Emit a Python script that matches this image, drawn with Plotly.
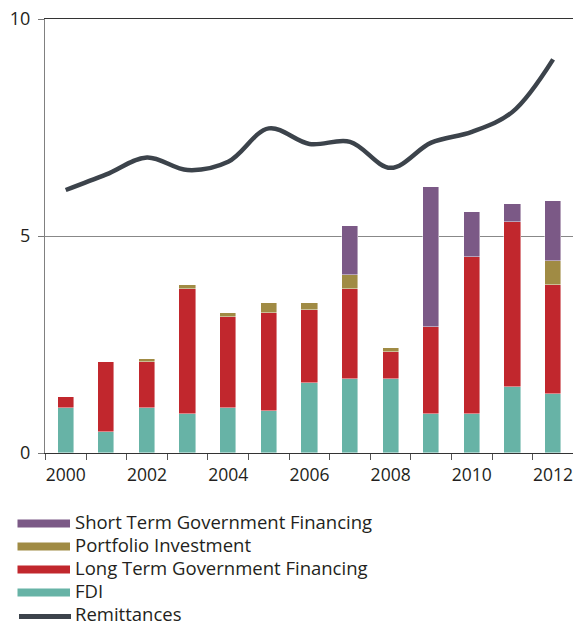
import plotly.graph_objects as go

years = [2000, 2001, 2002, 2003, 2004, 2005, 2006, 2007, 2008, 2009, 2010, 2011, 2012]
fdi = [1.04, 0.49, 1.04, 0.89, 1.04, 0.96, 1.61, 1.70, 1.70, 0.89, 0.89, 1.53, 1.37]
long_term_gov = [0.25, 1.60, 1.05, 2.89, 2.09, 2.26, 1.68, 2.08, 0.63, 2.01, 3.62, 3.79, 2.49]
portfolio = [0, 0, 0.08, 0.08, 0.09, 0.24, 0.17, 0.32, 0.09, 0, 0, 0, 0.57]
short_term_gov = [0, 0, 0, 0, 0, 0, 0, 1.13, 0, 3.23, 1.04, 0.41, 1.37]
remittances = [6.06, 6.42, 6.81, 6.52, 6.71, 7.48, 7.12, 7.17, 6.57, 7.15, 7.40, 7.86, 9.07]

x_tick_vals = [2000, 2002, 2004, 2006, 2008, 2010, 2012]
x_tick_text = ["2000", "2002", "2004", "2006", "2008", "2010", "2012"]
y_tick_vals = [0, 5, 10]

names = ["Short Term Government Financing", "Portfolio Investment",
         "Long Term Government Financing", "FDI", "Remittances"]
colors = {"Short Term Government Financing": "#7B5986",
          "Portfolio Investment": "#A08B44",
          "Long Term Government Financing": "#C1272D",
          "FDI": "#67B3A6",
          "Remittances": "#3C434B"}

W, H = 573, 626
L, R, T, B = 45, 0, 19, 173
PW, PH = W - L - R, H - T - B

fig = go.Figure()
edge = dict(width=0.8, color="rgba(255,255,255,0.55)")
for name, vals in [("FDI", fdi), ("Long Term Government Financing", long_term_gov),
                   ("Portfolio Investment", portfolio),
                   ("Short Term Government Financing", short_term_gov)]:
    fig.add_trace(go.Bar(x=years, y=vals, name=name, width=0.4,
                         marker=dict(color=colors[name], line=edge),
                         showlegend=False))
fig.add_trace(go.Scatter(x=years, y=remittances, name="Remittances", mode="lines",
                         line=dict(color=colors["Remittances"], width=4.5,
                                   shape="spline", smoothing=1.0),
                         showlegend=False))

font_family = "'Open Sans', 'Noto Sans', sans-serif"

def px_to_paper_x(px):
    return (px - L) / PW

def px_to_paper_y(py):
    return (H - B - py) / PH

shapes = []
annotations = []
row_y = [523, 546, 569, 592, 615]
for name, cy in zip(names, row_y):
    if name == "Remittances":
        shapes.append(dict(type="line", xref="paper", yref="paper",
                           x0=px_to_paper_x(19), x1=px_to_paper_x(71),
                           y0=px_to_paper_y(cy + 1.5), y1=px_to_paper_y(cy + 1.5),
                           line=dict(color=colors[name], width=5)))
    else:
        shapes.append(dict(type="rect", xref="paper", yref="paper",
                           x0=px_to_paper_x(17.5), x1=px_to_paper_x(70),
                           y0=px_to_paper_y(cy - 3.5), y1=px_to_paper_y(cy + 4.5),
                           fillcolor=colors[name], line=dict(width=0)))
    annotations.append(dict(text=name, xref="paper", yref="paper",
                            x=px_to_paper_x(74), y=px_to_paper_y(cy - 2),
                            xanchor="left", yanchor="middle", showarrow=False,
                            borderpad=0,
                            font=dict(size=18.5, color="#231F20", family=font_family)))

fig.update_layout(
    width=W, height=H,
    margin=dict(l=L, r=R, t=T, b=B, pad=0),
    barmode="stack", bargap=0,
    plot_bgcolor="white", paper_bgcolor="white",
    font=dict(family=font_family, size=18, color="#231F20"),
    shapes=shapes, annotations=annotations,
    showlegend=False,
)
fig.update_xaxes(
    range=[1999.49, 2012.49],
    tickvals=x_tick_vals, ticktext=x_tick_text, ticks="",
    ticklabelstandoff=6, ticklabeloverflow="allow",
    showgrid=False, zeroline=False,
    showline=True, linecolor="#333333", linewidth=1.2, mirror=True,
    minor=dict(tickvals=[y + 0.5 for y in range(1999, 2012)], ticks="outside",
               ticklen=6, tickcolor="#555555", tickwidth=1, showgrid=False),
    tickfont=dict(size=17.5),
)
fig.update_yaxes(
    range=[0, 10], tickvals=y_tick_vals,
    ticks="outside", ticklen=6, tickcolor="#777777",
    ticklabelstandoff=4,
    showgrid=True, gridcolor="#888888", gridwidth=1.2,
    zeroline=False, showline=True, linecolor="#808080", linewidth=1,
    tickfont=dict(size=18),
)
fig.write_html("out.html", config={"displayModeBar": False},
               post_script="document.body.style.margin='0';document.body.style.overflow='hidden';")
